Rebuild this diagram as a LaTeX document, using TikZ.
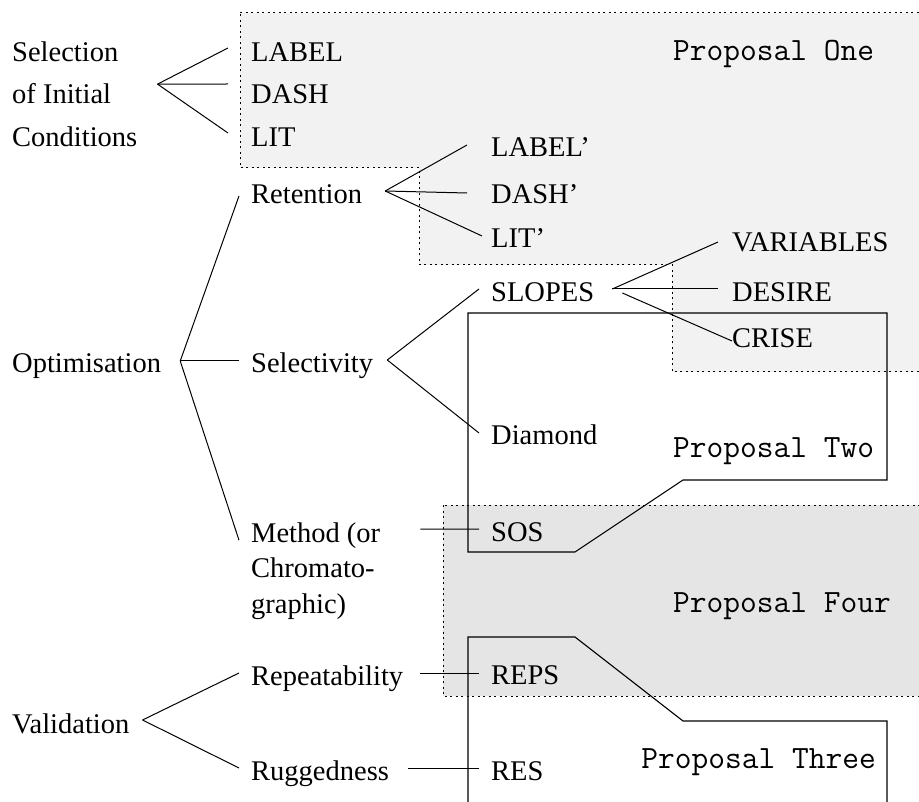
\documentclass[tikz,border=0pt]{standalone}
\usepackage{fontspec}
\setmainfont{Liberation Serif}
\definecolor{propone}{gray}{0.95}
\definecolor{propfour}{gray}{0.9}
\begin{document}
\begin{tikzpicture}[x=1pt,y=1pt,
    lbl/.style={anchor=base west,inner sep=0pt,font=\fontsize{28.5}{34}\selectfont},
    block/.style={anchor=north west,inner sep=0pt,align=left},
    prop/.style={inner sep=0pt,font=\fontsize{32.5}{38}\ttfamily},
    zone/.style={line width=1pt,dash pattern=on 2pt off 3.5pt},
    frame/.style={line width=1.1pt},
    branch/.style={line width=1pt}]
    \useasboundingbox (0,0) rectangle (919,-802);
    % proposal areas
    \fill[propone] (240,-13) -- (925,-13) -- (925,-372) -- (672,-372) -- (672,-265)
        -- (419,-265) -- (419,-168) -- (240,-168) -- cycle;
    \fill[propfour] (443,-505) rectangle (925,-696);
    \draw[zone] (240,-13) -- (925,-13) -- (925,-372) -- (672,-372) -- (672,-265)
        -- (419,-265) -- (419,-168) -- (240,-168) -- cycle;
    \draw[zone] (443,-505) rectangle (925,-696);
    \draw[frame] (468,-313) -- (887,-313) -- (887,-480) -- (683,-480) -- (575,-552)
        -- (468,-552) -- cycle;
    \draw[frame] (468,-810) -- (468,-637) -- (575,-637) -- (683,-721) -- (887,-721)
        -- (887,-810);
    \node[prop,anchor=base west] (pone) at (673,-61) {Proposal One};
    \node[prop,anchor=base west] (ptwo) at (673,-457) {Proposal Two};
    \node[prop,anchor=base west] (pfour) at (673,-612) {Proposal Four};
    \node[prop,anchor=base east] (pthree) at (876,-768) {Proposal Three};
    % tree
    \node[block,font=\fontsize{28.5}{42.5}\selectfont] (sel) at (12,-41.4) {Selection\\of Initial\\Conditions};
    \node[lbl] (label) at (251,-62) {LABEL};
    \node[lbl] (dash) at (251,-104) {DASH};
    \node[lbl] (lit) at (251,-147) {LIT};
    \node[lbl] (opt) at (12,-373) {Optimisation};
    \node[lbl] (ret) at (251,-204) {Retention};
    \node[lbl] (labelp) at (491,-157) {LABEL'};
    \node[lbl] (dashp) at (491,-204) {DASH'};
    \node[lbl] (litp) at (491,-248) {LIT'};
    \node[lbl] (slct) at (251,-373) {Selectivity};
    \node[lbl] (slopes) at (491,-302) {SLOPES};
    \node[lbl] (diam) at (491,-445) {Diamond};
    \node[lbl] (vars) at (732,-252) {VARIABLES};
    \node[lbl] (desire) at (732,-302) {DESIRE};
    \node[lbl] (crise) at (732,-348) {CRISE};
    \node[block,font=\fontsize{28.5}{35.5}\selectfont] (meth) at (251,-522.2) {Method (or\\Chromato-\\graphic)};
    \node[lbl] (sos) at (491,-541) {SOS};
    \node[lbl] (val) at (12,-733) {Validation};
    \node[lbl] (rep) at (251,-685) {Repeatability};
    \node[lbl] (rug) at (251,-780) {Ruggedness};
    \node[lbl] (reps) at (491,-684) {REPS};
    \node[lbl] (res) at (491,-780) {RES};
    % forks
    \coordinate (selfork) at ([shift={(20,10)}]sel.east);
    \coordinate (retfork) at ([shift={(23,13)}]ret.base east);
    \coordinate (optfork) at ([shift={(19,12)}]opt.base east);
    \coordinate (slctfork) at ([shift={(14,13)}]slct.base east);
    \coordinate (slopesfork) at ([shift={(18,13)}]slopes.base east);
    \coordinate (valfork) at ([shift={(13,13)}]val.base east);
    \foreach \n/\dy in {label/14,dash/20,lit/14}
        \draw[branch] (selfork) -- ([shift={(-23,\dy)}]\n.base west);
    \draw[branch] (retfork) -- ([shift={(-24,12)}]labelp.base west);
    \draw[branch] (retfork) -- ([shift={(-24,11)}]dashp.base west);
    \draw[branch] (retfork) -- ([shift={(-9,12)}]litp.base west);
    \draw[branch] (optfork) -- ([shift={(-12,8)}]ret.base west);
    \draw[branch] (optfork) -- ([shift={(-12,12)}]slct.base west);
    \draw[branch] (optfork) -- ([shift={(-12,-18)}]meth.north west);
    \draw[branch] (slctfork) -- ([shift={(-12,13)}]slopes.base west);
    \draw[branch] (slctfork) -- ([shift={(-12,12)}]diam.base west);
    \draw[branch] (slopesfork) -- ([shift={(-14,10)}]vars.base west);
    \draw[branch] (slopesfork) -- ([shift={(-14,13)}]desire.base west);
    \draw[branch] ([shift={(28,9)}]slopes.base east) -- ([shift={(0,7)}]crise.base west);
    \draw[branch] (valfork) -- ([shift={(-12,12)}]rep.base west);
    \draw[branch] (valfork) -- ([shift={(-12,12)}]rug.base west);
    \draw[branch] ([shift={(40,-7)}]meth.north east) -- ([shift={(-12,12)}]sos.base west);
    \draw[branch] ([shift={(17,12)}]rep.base east) -- ([shift={(-12,11)}]reps.base west);
    \draw[branch] ([shift={(19,12)}]rug.base east) -- ([shift={(-12,12)}]res.base west);
\end{tikzpicture}
\end{document}
